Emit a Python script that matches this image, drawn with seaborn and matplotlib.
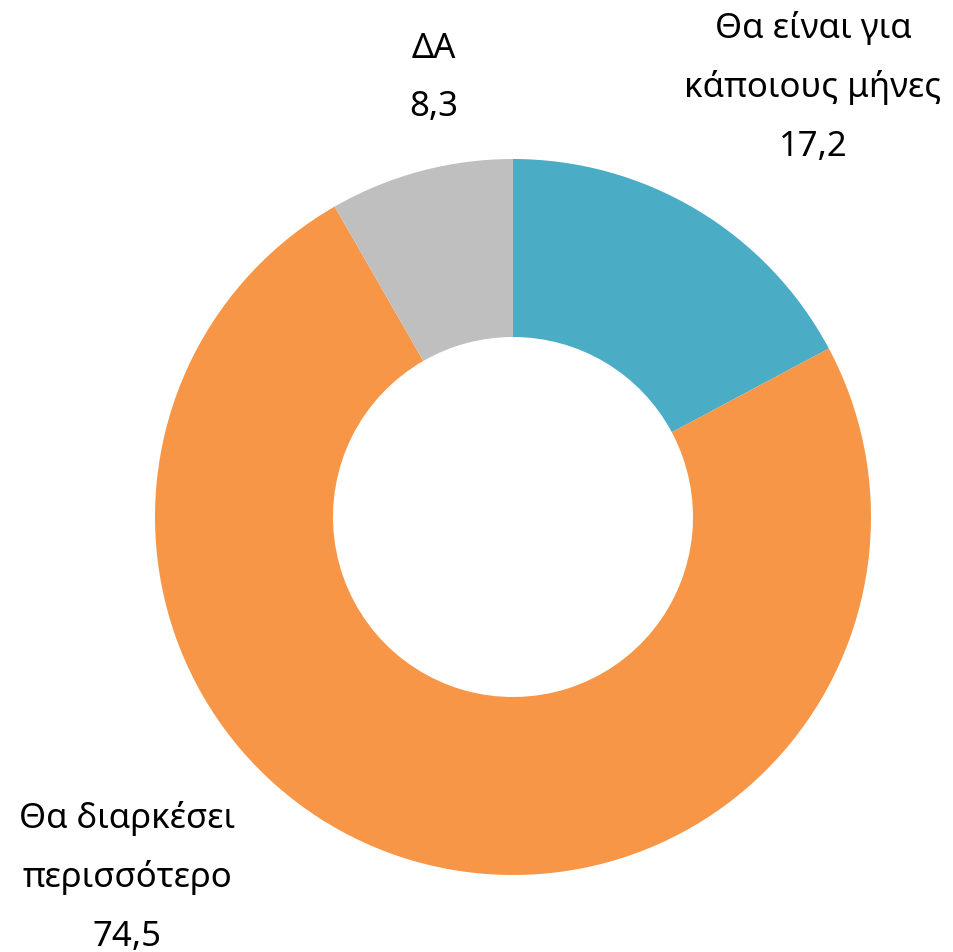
import matplotlib
matplotlib.use("Agg")
import matplotlib.pyplot as plt
import seaborn as sns

categories = ["Θα είναι για κάποιους μήνες", "Θα διαρκέσει περισσότερο", "ΔΑ"]
values = [17.2, 74.5, 8.3]
value_labels = ["17,2", "74,5", "8,3"]
label_lines = [["Θα είναι για", "κάποιους μήνες"], ["Θα διαρκέσει", "περισσότερο"], ["ΔΑ"]]
colors = ["#4BACC6", "#F79646", "#BFBFBF"]

sns.set_theme(style="white")
plt.rcParams["font.family"] = ["Noto Sans", "DejaVu Sans"]

W, H = 954, 953
fig = plt.figure(figsize=(W / 100, H / 100), dpi=100)
ax = fig.add_axes([0, 0, 1, 1])
cx, cy, R = 513, H - 518, 358
ax.pie(values, colors=colors, startangle=90, counterclock=False,
       radius=R, center=(cx, cy),
       wedgeprops=dict(width=178, linewidth=0))
ax.set_xlim(0, W)
ax.set_ylim(0, H)
ax.set_aspect("auto")
ax.axis("off")

# label anchors (center x, first baseline y in pixels from top, line spacing)
anchors = [(813, 38, 59), (127, 828, 59), (434, 58, 58)]
for lines, val, (x, y0, dy) in zip(label_lines, value_labels, anchors):
    for i, t in enumerate(lines + [val]):
        ax.text(x, H - (y0 + i * dy), t, ha="center", va="baseline",
                fontsize=25, fontweight="light", color="black")

fig.savefig("out.png", dpi=100)
